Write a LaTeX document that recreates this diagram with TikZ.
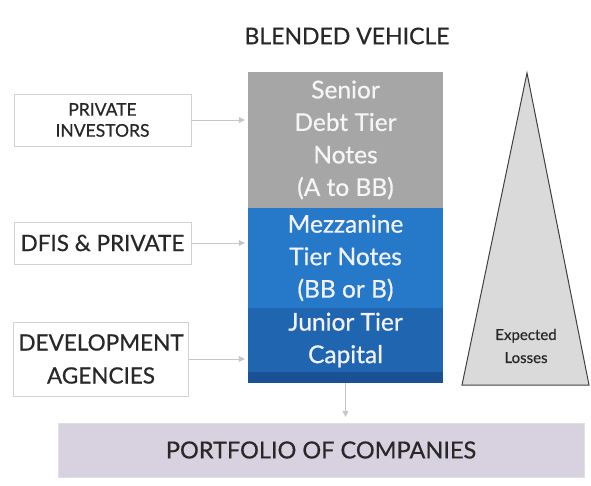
\documentclass[tikz,border=0pt]{standalone}
\usepackage{fontspec}
\setmainfont{Lato}[FakeBold=0.6]
\usetikzlibrary{arrows.meta}

\definecolor{seniorgray}{RGB}{166,166,166}
\definecolor{mezzblue}{RGB}{38,120,200}
\definecolor{juniorblue}{RGB}{31,101,176}
\definecolor{basenavy}{RGB}{24,82,148}
\definecolor{lossgray}{RGB}{218,218,218}
\definecolor{lavender}{RGB}{216,210,224}
\definecolor{textdark}{RGB}{40,40,40}

\begin{document}
\begin{tikzpicture}[x=1pt,y=-1pt]
        % Define styles
        \tikzset{
            source/.style={rectangle, draw=gray!35, line width=0.9pt, fill=white, align=center, text=textdark, inner sep=0pt},
            tier/.style={rectangle, minimum width=195pt, inner sep=0pt, align=center, text=white, font=\fontsize{24.5}{32.5}\selectfont},
            arrow/.style={-{Triangle[length=6pt,width=6pt]}, draw=gray!45, line width=0.7pt}
        }
        \useasboundingbox (0,0) rectangle (591,486);

        % Title
        \node[text=textdark, font=\fontsize{23}{26}\selectfont] (title) at (347,36) {BLENDED VEHICLE};

        % Sources
        \node[source, minimum width=177pt, minimum height=52pt, font=\fontsize{17.5}{21}\selectfont] (private) at (102.5,120) {PRIVATE\\INVESTORS};
        \node[source, minimum width=177pt, minimum height=42pt, font=\fontsize{22.5}{26}\selectfont] (dfis) at (102.5,243) {DFIS \& PRIVATE};
        \node[source, minimum width=175pt, minimum height=74pt, font=\fontsize{22.5}{33}\selectfont] (devagency) at (101,359) {DEVELOPMENT\\AGENCIES};

        % Blended vehicle tiers
        \node[tier, fill=seniorgray, text=gray!8, minimum height=136pt] (senior) at (345.5,140) {Senior\\Debt Tier\\Notes\\(A to BB)};
        \node[tier, fill=mezzblue, text=blue!5, minimum height=100pt] (mezz) at (345.5,258) {Mezzanine\\Tier Notes\\(BB or B)};
        \node[tier, fill=juniorblue, text=blue!5, minimum height=64pt] (junior) at (345.5,340) {Junior Tier\\Capital};
        \node[tier, fill=basenavy, minimum height=11pt] (juniorbase) at (345.5,377.5) {};

        % Expected losses
        \coordinate (apex) at (527,73);
        \coordinate (baseleft) at (462,385);
        \coordinate (baseright) at (589,385);
        \draw[fill=lossgray, draw=black!75, line width=1pt, line join=miter] (apex) -- (baseright) -- (baseleft) -- cycle;
        \node[text=textdark, align=center, font=\fontsize{15}{23}\selectfont] (losses) at (526,346) {Expected\\Losses};

        % Portfolio
        \node[rectangle, fill=lavender, draw=gray!25, minimum width=526pt, minimum height=54pt, inner sep=0pt, text=textdark, font=\fontsize{23.5}{27}\selectfont] (portfolio) at (321,450) {PORTFOLIO OF COMPANIES};

        % Arrows
        \draw[arrow] (private.east) -- ([xshift=-3pt]senior.west |- private.east);
        \draw[arrow] (dfis.east) -- ([xshift=-3pt]mezz.west |- dfis.east);
        \draw[arrow] (devagency.east) -- ([xshift=-3pt]junior.west |- devagency.east);
        \draw[arrow] (juniorbase.south) -- ([yshift=6pt]juniorbase.south |- portfolio.north);
\end{tikzpicture}
\end{document}
